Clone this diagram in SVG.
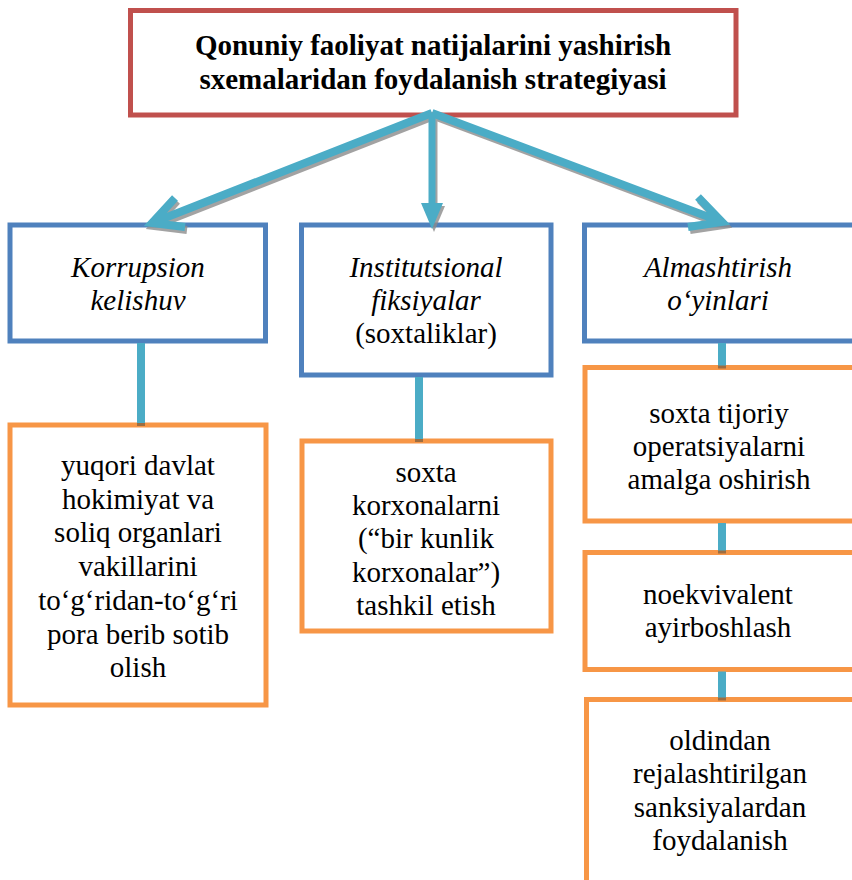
<svg xmlns="http://www.w3.org/2000/svg" width="852" height="880" viewBox="0 0 852 880">
  <rect width="852" height="880" fill="#ffffff"/>

  <g id="node-top">
    <rect x="130.5" y="10.5" width="605.5" height="104.5" fill="#ffffff" stroke="#C0504D" stroke-width="5"/>
    <text x="433" y="55" font-family="Liberation Serif" font-size="29" font-weight="bold" text-anchor="middle">Qonuniy faoliyat natijalarini yashirish</text>
    <text x="433" y="89" font-family="Liberation Serif" font-size="29" font-weight="bold" text-anchor="middle">sxemalaridan foydalanish strategiyasi</text>
  </g>

  <g id="node-korrupsion">
    <rect x="10" y="225" width="255.5" height="116" fill="#ffffff" stroke="#4F81BD" stroke-width="5"/>
    <text x="138" y="277" font-family="Liberation Serif" font-size="29" font-style="italic" text-anchor="middle">Korrupsion</text>
    <text x="138" y="310" font-family="Liberation Serif" font-size="29" font-style="italic" text-anchor="middle">kelishuv</text>
  </g>

  <g id="node-institutsional">
    <rect x="301.5" y="225" width="249.5" height="150" fill="#ffffff" stroke="#4F81BD" stroke-width="5"/>
    <text x="426" y="277" font-family="Liberation Serif" font-size="29" font-style="italic" text-anchor="middle">Institutsional</text>
    <text x="426" y="310" font-family="Liberation Serif" font-size="29" font-style="italic" text-anchor="middle">fiksiyalar</text>
    <text x="426" y="343" font-family="Liberation Serif" font-size="29" text-anchor="middle">(soxtaliklar)</text>
  </g>

  <g id="node-almashtirish">
    <rect x="584.5" y="225" width="270" height="116" fill="#ffffff" stroke="#4F81BD" stroke-width="5"/>
    <text x="718" y="277" font-family="Liberation Serif" font-size="29" font-style="italic" text-anchor="middle">Almashtirish</text>
    <text x="718" y="310" font-family="Liberation Serif" font-size="29" font-style="italic" text-anchor="middle">o‘yinlari</text>
  </g>

  <g id="node-pora">
    <rect x="10" y="425" width="256" height="280" fill="#ffffff" stroke="#F79646" stroke-width="5"/>
    <text x="138" y="475" font-family="Liberation Serif" font-size="29" text-anchor="middle">yuqori davlat</text>
    <text x="138" y="508.7" font-family="Liberation Serif" font-size="29" text-anchor="middle">hokimiyat va</text>
    <text x="138" y="542.4" font-family="Liberation Serif" font-size="29" text-anchor="middle">soliq organlari</text>
    <text x="138" y="576.1" font-family="Liberation Serif" font-size="29" text-anchor="middle">vakillarini</text>
    <text x="138" y="609.8" font-family="Liberation Serif" font-size="29" text-anchor="middle">to‘g‘ridan-to‘g‘ri</text>
    <text x="138" y="643.5" font-family="Liberation Serif" font-size="29" text-anchor="middle">pora berib sotib</text>
    <text x="138" y="677.2" font-family="Liberation Serif" font-size="29" text-anchor="middle">olish</text>
  </g>

  <g id="node-korxonalar">
    <rect x="302" y="441" width="249" height="190" fill="#ffffff" stroke="#F79646" stroke-width="5"/>
    <text x="426" y="482" font-family="Liberation Serif" font-size="29" text-anchor="middle">soxta</text>
    <text x="426" y="515" font-family="Liberation Serif" font-size="29" text-anchor="middle">korxonalarni</text>
    <text x="426" y="548" font-family="Liberation Serif" font-size="29" text-anchor="middle">(“bir kunlik</text>
    <text x="426" y="582" font-family="Liberation Serif" font-size="29" text-anchor="middle">korxonalar”)</text>
    <text x="426" y="615" font-family="Liberation Serif" font-size="29" text-anchor="middle">tashkil etish</text>
  </g>

  <g id="node-tijoriy">
    <rect x="585" y="367.5" width="270" height="153.5" fill="#ffffff" stroke="#F79646" stroke-width="5"/>
    <text x="719" y="423" font-family="Liberation Serif" font-size="29" text-anchor="middle">soxta tijoriy</text>
    <text x="719" y="456" font-family="Liberation Serif" font-size="29" text-anchor="middle">operatsiyalarni</text>
    <text x="719" y="489" font-family="Liberation Serif" font-size="29" text-anchor="middle">amalga oshirish</text>
  </g>

  <g id="node-noekvivalent">
    <rect x="585" y="552.5" width="270" height="117" fill="#ffffff" stroke="#F79646" stroke-width="5"/>
    <text x="718" y="604" font-family="Liberation Serif" font-size="29" text-anchor="middle">noekvivalent</text>
    <text x="718" y="637" font-family="Liberation Serif" font-size="29" text-anchor="middle">ayirboshlash</text>
  </g>

  <g id="node-sanksiyalar">
    <rect x="586.5" y="699.5" width="270" height="200" fill="#ffffff" stroke="#F79646" stroke-width="5"/>
    <text x="720" y="750" font-family="Liberation Serif" font-size="29" text-anchor="middle">oldindan</text>
    <text x="720" y="783" font-family="Liberation Serif" font-size="29" text-anchor="middle">rejalashtirilgan</text>
    <text x="720" y="817" font-family="Liberation Serif" font-size="29" text-anchor="middle">sanksiyalardan</text>
    <text x="720" y="850" font-family="Liberation Serif" font-size="29" text-anchor="middle">foydalanish</text>
  </g>

  <g id="connectors">
    <g transform="translate(2,3)" fill="none" stroke="#8C8C8C" stroke-width="8" stroke-linejoin="miter" opacity="0.8">
      <path d="M432,113 L152,223 M175,198 L152,223 L185,227"/>
      <path d="M432,113 L722,222 M698,197 L722,222 L688,227"/>
      <path stroke-width="7" d="M432,113 L432,206"/>
      <path fill="#8C8C8C" stroke="none" d="M421,203 L443,203 L432,229 Z"/>
    </g>
    <g fill="none" stroke="#4BACC6" stroke-width="8" stroke-linejoin="miter">
      <path d="M432,113 L152,223 M175,198 L152,223 L185,227"/>
      <path d="M432,113 L722,222 M698,197 L722,222 L688,227"/>
      <path stroke-width="7" d="M432,113 L432,206"/>
      <path fill="#4BACC6" stroke="none" d="M421,203 L443,203 L432,229 Z"/>
    </g>
    <g stroke="#7F6040" stroke-width="8" opacity="0.75">
      <line x1="141" y1="421" x2="141" y2="426"/>
      <line x1="419" y1="437" x2="419" y2="442"/>
      <line x1="722" y1="363.5" x2="722" y2="368.5"/>
      <line x1="722" y1="548.5" x2="722" y2="553.5"/>
      <line x1="722" y1="695.5" x2="722" y2="700.5"/>
    </g>
    <g stroke="#4BACC6" stroke-width="8">
      <line x1="141" y1="343" x2="141" y2="423"/>
      <line x1="419" y1="377" x2="419" y2="439"/>
      <line x1="722" y1="343" x2="722" y2="365.5"/>
      <line x1="722" y1="523" x2="722" y2="550.5"/>
      <line x1="722" y1="671.5" x2="722" y2="697.5"/>
    </g>
  </g>
</svg>
